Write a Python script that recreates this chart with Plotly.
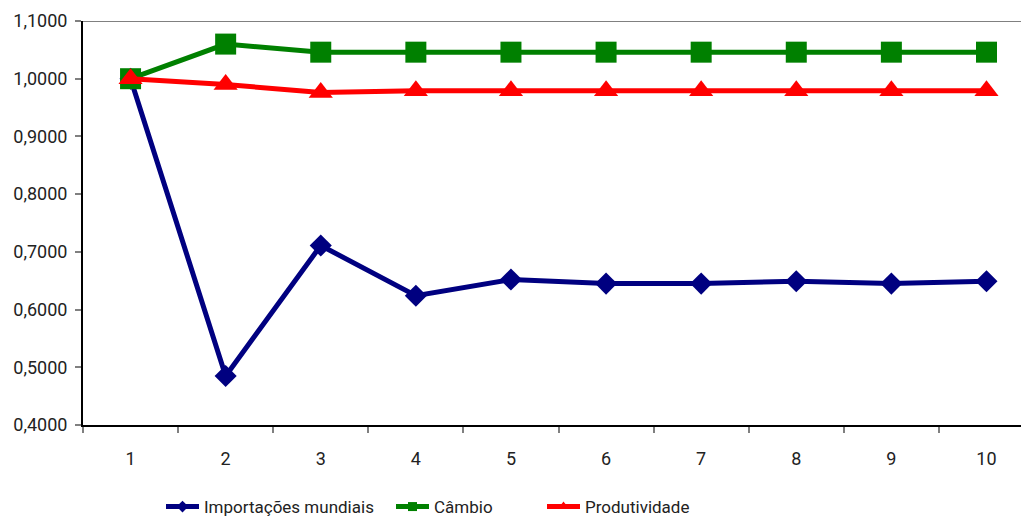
import plotly.graph_objects as go

periodos = [1, 2, 3, 4, 5, 6, 7, 8, 9, 10]
importacoes = [1.000, 0.485, 0.711, 0.624, 0.652, 0.645, 0.645, 0.649, 0.645, 0.649]
cambio = [1.000, 1.060, 1.046, 1.046, 1.046, 1.046, 1.046, 1.046, 1.046, 1.046]
produtividade = [1.000, 0.990, 0.976, 0.979, 0.979, 0.979, 0.979, 0.979, 0.979, 0.979]
y_ticks = [0.4, 0.5, 0.6, 0.7, 0.8, 0.9, 1.0, 1.1]

FONT = "Roboto, Liberation Sans, sans-serif"
TXT = "#222222"

fig = go.Figure()

# (name, values, colour, symbol, plot marker size, legend marker size, legend)
series = [
    ("Importações mundiais", importacoes, "#000080", "diamond", 17, 9, "legend"),
    ("Câmbio", cambio, "#008000", "square", 21, 9, "legend2"),
    ("Produtividade", produtividade, "#FF0000", "triangle-up", 21, 10, "legend3"),
]
for name, vals, color, sym, size, leg_size, leg in series:
    fig.add_trace(go.Scatter(
        x=periodos, y=vals, name=name, mode="lines+markers",
        line=dict(color=color, width=5),
        marker=dict(symbol=sym, size=size, color=color, line=dict(width=0)),
        showlegend=False,
    ))
    # legend key with a smaller marker
    fig.add_trace(go.Scatter(
        x=[None], y=[None], name=name, mode="lines+markers",
        line=dict(color=color, width=5),
        marker=dict(symbol=sym, size=leg_size, color=color, line=dict(width=0)),
        legend=leg, hoverinfo="skip",
    ))

# grey top border of the plot area
fig.add_shape(type="line", xref="paper", yref="y", x0=0, x1=1, y0=1.1, y1=1.1,
              line=dict(color="#808080", width=2), layer="below")

leg_common = dict(orientation="h", yanchor="middle", xanchor="left",
                  font=dict(family=FONT, size=17, color=TXT),
                  bgcolor="rgba(0,0,0,0)", itemwidth=33)

fig.update_layout(
    width=1021, height=518,
    margin=dict(l=83, r=0, t=21, b=93, autoexpand=False),
    paper_bgcolor="white", plot_bgcolor="white",
    separators=",.",
    font=dict(family=FONT, size=18, color=TXT),
    showlegend=True,
    legend=dict(x=(161 - 83) / 938, y=-0.203, **leg_common),
    legend2=dict(x=(391 - 83) / 938, y=-0.203, **leg_common),
    legend3=dict(x=(542 - 83) / 938, y=-0.203, **leg_common),
    xaxis=dict(
        range=[0.5, 10.363], tickmode="array", tickvals=periodos,
        ticktext=[str(p) for p in periodos], ticks="", showgrid=False,
        zeroline=False, showline=True, linecolor="#000000", linewidth=2,
        ticklabelstandoff=16,
        minor=dict(tick0=0.5, dtick=1, ticks="outside", ticklen=6,
                   tickcolor="#808080", tickwidth=2, showgrid=False),
        tickfont=dict(family=FONT, size=18, color=TXT),
    ),
    yaxis=dict(
        range=[0.4, 1.1], tickmode="array", tickvals=y_ticks,
        tickformat=".4f", ticks="outside", ticklen=6, tickwidth=2,
        tickcolor="#808080", showgrid=False, zeroline=False,
        showline=True, linecolor="#000000", linewidth=2,
        ticklabelstandoff=4,
        tickfont=dict(family=FONT, size=18, color=TXT),
    ),
)

fig.write_html("out.html")
